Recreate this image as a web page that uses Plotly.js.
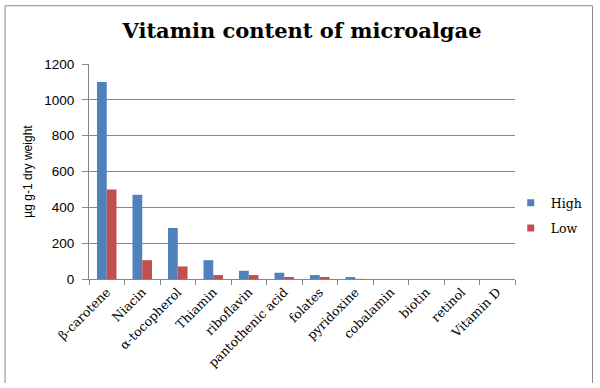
<!DOCTYPE html>
<html>
<head>
<meta charset="utf-8">
<script src="https://cdn.plot.ly/plotly-3.0.1.min.js"></script>
<style>html,body{margin:0;padding:0;background:#fff;}#chart{width:600px;height:388px;}</style>
</head>
<body>
<div id="chart"></div>
<script>
var categories = ["β-carotene", "Niacin", "α-tocopherol", "Thiamin", "riboflavin", "pantothenic acid", "folates", "pyridoxine", "cobalamin", "biotin", "retinol", "Vitamin D"];
var highValues = [1100, 470, 285, 105, 46, 35, 22, 11, 0, 0, 0, 0];
var lowValues = [500, 105, 70, 22, 22, 11, 11, 1, 0, 0, 0, 0];
var yTicks = [0, 200, 400, 600, 800, 1000, 1200];
var seriesNames = ["High", "Low"];
var seriesColors = ["#4F81BD", "#C0504D"];

var serif = "DejaVu Serif, Liberation Serif, serif";
var sans = "Liberation Sans, Arial, sans-serif";

var traces = [
  {type: "bar", name: seriesNames[0], x: categories, y: highValues, marker: {color: seriesColors[0]}, showlegend: false},
  {type: "bar", name: seriesNames[1], x: categories, y: lowValues, marker: {color: seriesColors[1]}, showlegend: false},
  {type: "scatter", mode: "markers", name: seriesNames[0], x: [null], y: [null], marker: {symbol: "square", size: 7, color: seriesColors[0]}, legendgroup: "a"},
  {type: "scatter", mode: "markers", name: seriesNames[1], x: [null], y: [null], marker: {symbol: "square", size: 7, color: seriesColors[1]}, legendgroup: "b"}
];

var layout = {
  width: 600, height: 388,
  margin: {l: 89, r: 85, t: 64, b: 109, pad: 0, autoexpand: false},
  paper_bgcolor: "#fff", plot_bgcolor: "#fff",
  barmode: "group", bargap: 0.45, bargroupgap: 0,
  title: {text: "<b>Vitamin content of microalgae</b>", font: {family: serif, size: 21, color: "#000"}, x: 0.5, xanchor: "center", y: 0.92, yanchor: "middle", xref: "paper"},
  xaxis: {
    type: "category", tickangle: -45, tickson: "boundaries", ticks: "outside", ticklen: 5, tickcolor: "#868686",
    showline: true, linecolor: "#868686", linewidth: 1, showgrid: false, automargin: false,
    tickfont: {family: serif, size: 12.5, color: "#000"}
  },
  yaxis: {
    range: [0, 1200], tickvals: yTicks, ticks: "outside", ticklen: 6, tickcolor: "#868686",
    showline: true, linecolor: "#868686", linewidth: 1, automargin: false,
    showgrid: true, gridcolor: "#868686", gridwidth: 1, zeroline: false,
    tickfont: {family: sans, size: 13.5, color: "#000"}, ticklabelstandoff: 5,
    title: {text: "µg g-1 dry weight", font: {family: sans, size: 12, color: "#000"}, standoff: 9}
  },
  legend: {x: 0.99, xanchor: "left", y: 0.295, yanchor: "middle", font: {family: serif, size: 12.5, color: "#000"}, tracegroupgap: 6, itemwidth: 30, bgcolor: "rgba(0,0,0,0)"},
  shapes: [
    {type: "path", xref: "paper", yref: "paper",
     path: "M -0.197 -0.484 L -0.197 1.271 L 1.182 1.271 L 1.182 -0.484",
     line: {color: "#888", width: 1}}
  ]
};

Plotly.newPlot("chart", traces, layout, {displayModeBar: false, staticPlot: true});
</script>
</body>
</html>
